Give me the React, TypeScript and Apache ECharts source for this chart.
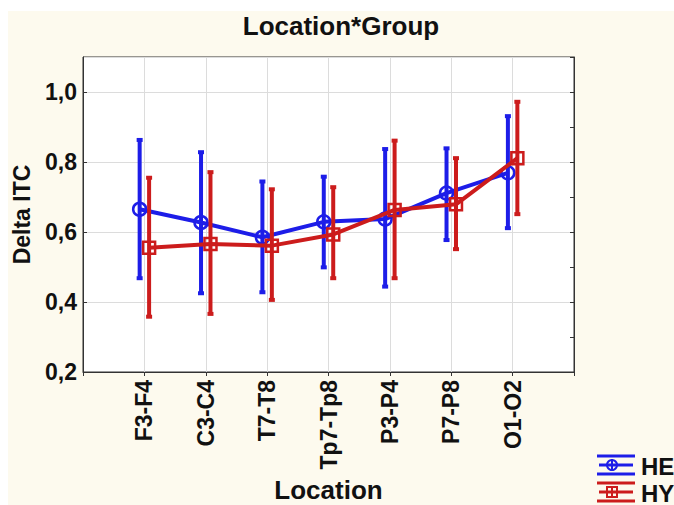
import React, { useEffect, useRef } from "react";
import * as echarts from "echarts";

const categories = ["F3-F4", "C3-C4", "T7-T8", "Tp7-Tp8", "P3-P4", "P7-P8", "O1-O2"];
const heMean = [0.665, 0.627, 0.585, 0.629, 0.637, 0.711, 0.769];
const heLow = [0.468, 0.425, 0.428, 0.499, 0.444, 0.577, 0.611];
const heHigh = [0.863, 0.828, 0.744, 0.758, 0.837, 0.839, 0.931];
const hyMean = [0.555, 0.566, 0.561, 0.593, 0.663, 0.679, 0.811];
const hyLow = [0.358, 0.366, 0.406, 0.468, 0.468, 0.551, 0.651];
const hyHigh = [0.755, 0.771, 0.722, 0.728, 0.861, 0.811, 0.972];
const yTicks = [0.2, 0.4, 0.6, 0.8, 1.0];

const BLUE = "#1d1de8";
const RED = "#cc1c1c";
const FONT = "'Liberation Sans', Arial, sans-serif";
const OFFSET = 0.077;

function errorBars(low: number[], high: number[], dx: number, color: string, z: number) {
  return {
    type: "custom",
    z,
    data: low.map((l, i) => [i + 1 + dx, l, high[i]]),
    renderItem: (params: any, api: any) => {
      const x = api.value(0);
      const p1 = api.coord([x, api.value(1)]);
      const p2 = api.coord([x, api.value(2)]);
      return {
        type: "group",
        children: [
          {
            type: "line",
            shape: { x1: p1[0], y1: p1[1], x2: p2[0], y2: p2[1] },
            style: { stroke: color, lineWidth: 4 },
          },
          {
            type: "rect",
            shape: { x: p1[0] - 3, y: p1[1] - 2, width: 6, height: 4 },
            style: { fill: color },
          },
          {
            type: "rect",
            shape: { x: p2[0] - 3, y: p2[1] - 2, width: 6, height: 4 },
            style: { fill: color },
          },
        ],
      };
    },
  };
}

export default function App() {
  const ref = useRef<HTMLDivElement>(null);
  useEffect(() => {
    document.body.style.margin = "0";
    const chart = echarts.init(ref.current!, null, { renderer: "svg" });
    const lx = 589;
    const legend = (cy: number, color: string, label: string, circle: boolean) => {
      const children: any[] = [
        { type: "line", shape: { x1: lx, y1: cy - 9, x2: lx + 38, y2: cy - 9 }, style: { stroke: color, lineWidth: 3 } },
        { type: "line", shape: { x1: lx + 2, y1: cy, x2: lx + 36, y2: cy }, style: { stroke: color, lineWidth: 3 } },
        { type: "line", shape: { x1: lx, y1: cy + 9, x2: lx + 38, y2: cy + 9 }, style: { stroke: color, lineWidth: 3 } },
        { type: "line", shape: { x1: lx + 15, y1: cy - 6, x2: lx + 15, y2: cy + 6 }, style: { stroke: color, lineWidth: 2 } },
      ];
      if (circle) {
        children.push({ type: "circle", shape: { cx: lx + 15, cy, r: 5 }, style: { fill: "none", stroke: color, lineWidth: 2 } });
      } else {
        children.push({ type: "rect", shape: { x: lx + 10, y: cy - 5, width: 10, height: 10 }, style: { fill: "none", stroke: color, lineWidth: 2 } });
      }
      children.push({
        type: "text",
        style: { x: lx + 44, y: cy + 1, text: label, fill: "#111", font: `bold 24px ${FONT}`, verticalAlign: "middle" },
      });
      return { type: "group", children };
    };
    chart.setOption({
      animation: false,
      backgroundColor: "#fdfaee",
      title: {
        text: "Location*Group",
        left: "center",
        top: -3,
        textStyle: { fontFamily: FONT, fontWeight: "bold", fontSize: 26, color: "#111" },
      },
      grid: {
        left: 75,
        top: 46,
        right: 100,
        bottom: 133,
        outerBoundsMode: "none",
        containLabel: false,
        show: true,
        backgroundColor: "#ffffff",
        borderColor: "#333",
        borderWidth: 1,
      },
      xAxis: {
        type: "value",
        min: 0,
        max: 8,
        interval: 1,
        name: "Location",
        nameLocation: "middle",
        nameGap: 106,
        nameTextStyle: { fontFamily: FONT, fontWeight: "bold", fontSize: 26, lineHeight: 24, color: "#111" },
        axisLine: { show: true, lineStyle: { color: "#333" } },
        axisTick: { show: true, length: 4, lineStyle: { color: "#333" } },
        splitLine: { show: true, lineStyle: { color: "#dcdcdc" } },
        axisLabel: {
          rotate: 90,
          margin: 8,
          fontFamily: FONT,
          fontWeight: "bold",
          fontSize: 23,
          color: "#111",
          formatter: (v: number) => (v >= 1 && v <= categories.length ? categories[v - 1] : ""),
        },
      },
      yAxis: [
        {
          type: "value",
          min: 0.2,
          max: 1.1,
          interval: 0.2,
          name: "Delta ITC",
          nameLocation: "middle",
          nameGap: 50,
          nameTextStyle: { fontFamily: FONT, fontWeight: "bold", fontSize: 23, lineHeight: 22, color: "#111" },
          axisLine: { show: true, lineStyle: { color: "#333" } },
          axisTick: { show: true, inside: true, length: 4, lineStyle: { color: "#333" } },
          splitLine: { show: true, lineStyle: { color: "#dcdcdc" } },
          axisLabel: {
            showMaxLabel: false,
            margin: 6,
            fontFamily: FONT,
            fontWeight: "bold",
            fontSize: 23,
            color: "#111",
            formatter: (v: number) => {
              const t = yTicks.find((k) => Math.abs(k - v) < 1e-6);
              return t === undefined ? "" : t.toFixed(1).replace(".", ",");
            },
          },
        },
        {
          type: "value",
          position: "right",
          min: 0.2,
          max: 1.1,
          interval: 0.1,
          axisLine: { show: true, lineStyle: { color: "#333" } },
          axisTick: { show: true, inside: true, length: 4, lineStyle: { color: "#333" } },
          splitLine: { show: false },
          axisLabel: { show: false },
        },
      ],
      series: [
        errorBars(heLow, heHigh, -OFFSET, BLUE, 1),
        {
          type: "line",
          z: 2,
          data: heMean.map((m, i) => [i + 1 - OFFSET, m]),
          symbol: "circle",
          symbolSize: 13,
          lineStyle: { color: BLUE, width: 4 },
          itemStyle: { color: "rgba(0,0,0,0)", borderColor: BLUE, borderWidth: 2.5 },
        },
        errorBars(hyLow, hyHigh, OFFSET, RED, 3),
        {
          type: "line",
          z: 4,
          data: hyMean.map((m, i) => [i + 1 + OFFSET, m]),
          symbol: "rect",
          symbolSize: 12,
          lineStyle: { color: RED, width: 4 },
          itemStyle: { color: "rgba(0,0,0,0)", borderColor: RED, borderWidth: 2.5 },
        },
      ],
      graphic: [legend(454, BLUE, "HE", true), legend(481, RED, "HY", false)],
    });
    return () => chart.dispose();
  }, []);
  return (
    <div style={{ width: 674, height: 505, background: "#ffffff", paddingLeft: 8, paddingTop: 11, boxSizing: "border-box" }}>
      <div ref={ref} style={{ width: 666, height: 494 }} />
    </div>
  );
}
